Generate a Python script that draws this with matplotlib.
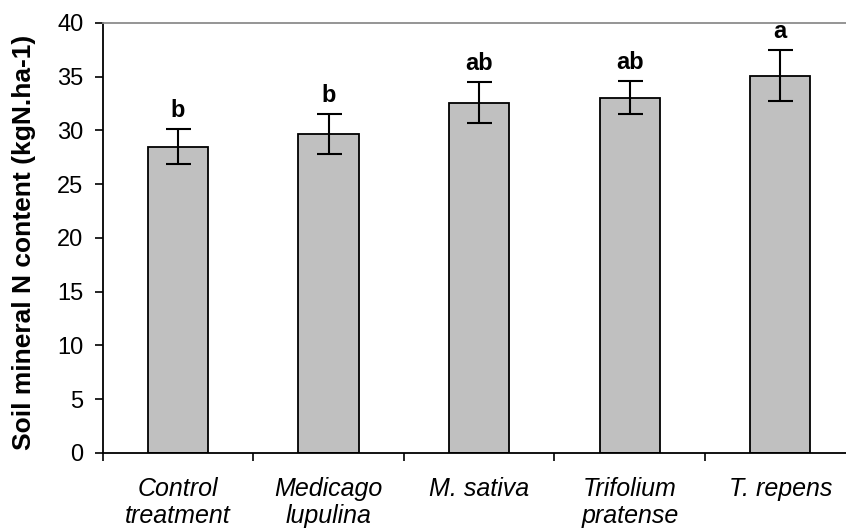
import numpy as np
import matplotlib

matplotlib.use('Agg')

import matplotlib.pyplot as plt

treatments = ['Control\ntreatment', 'Medicago\nlupulina', 'M. sativa', 'Trifolium\npratense', 'T. repens']
n_content = [28.5, 29.65, 32.6, 33.05, 35.1]
n_error = [1.6, 1.85, 1.9, 1.55, 2.35]
letters = ['b', 'b', 'ab', 'ab', 'a']

plt.rcParams['font.family'] = ['Liberation Sans', 'DejaVu Sans']

fig = plt.figure(figsize=(8.46, 5.31), dpi=100)
ax = fig.add_axes([0.1214, 0.1469, 0.890, 0.8098])

x = np.arange(len(treatments))
ax.bar(x, n_content, width=0.4, color='#c0c0c0', edgecolor='black', linewidth=1.3, zorder=2)
ax.errorbar(x, n_content, yerr=n_error, fmt='none', ecolor='black', elinewidth=1.5,
            capsize=9, capthick=1.5, zorder=3)

# significance letters above the error bars
for xi, m, e, lab in zip(x, n_content, n_error, letters):
    ax.annotate(lab, (xi, m + e), xytext=(0, 5), textcoords='offset points',
                ha='center', va='bottom', fontsize=17, fontweight='bold')

ax.set_xlim(-0.5, 4.5)
ax.set_ylim(0, 40)
ax.set_yticks(np.arange(0, 41, 5))
ax.tick_params(axis='y', labelsize=17, length=6, width=1.2, direction='out', pad=8)

# ticks between categories, labels under bars
ax.set_xticks(np.arange(-0.5, 5, 1))
ax.set_xticklabels([])
ax.tick_params(axis='x', which='major', length=6, width=1.2, direction='out')
ax.set_xticks(x, minor=True)
ax.set_xticklabels(treatments, minor=True, fontsize=18, style='italic', va='top')
ax.tick_params(axis='x', which='minor', length=0, pad=17)

ax.spines['left'].set_linewidth(1.3)
ax.spines['bottom'].set_linewidth(1.3)
ax.spines['top'].set_color('#8c8c8c')
ax.spines['top'].set_linewidth(1.3)
ax.spines['right'].set_visible(False)

ax.set_ylabel('Soil mineral N content (kgN.ha-1)', fontsize=19, fontweight='bold')
ax.yaxis.set_label_coords(-0.089, 0.49)

plt.savefig('out.png', dpi=100)
